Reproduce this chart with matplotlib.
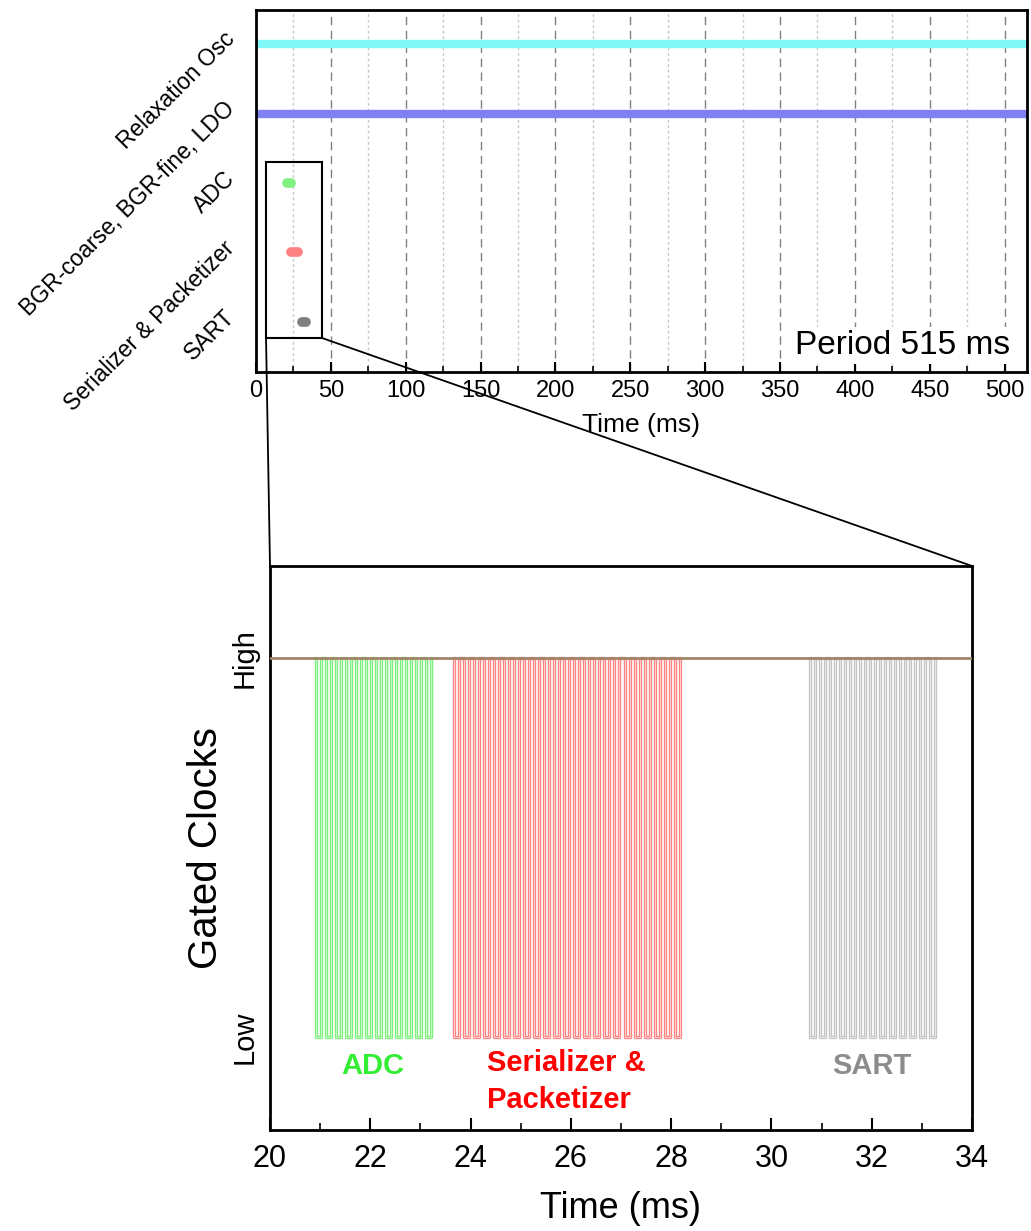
import numpy as np
import matplotlib
matplotlib.use('Agg')
import matplotlib.pyplot as plt
from matplotlib.patches import Rectangle, ConnectionPatch
from matplotlib.ticker import MultipleLocator

# top panel: power-domain activity over one period
rows = ['Relaxation Osc', 'BGR-coarse, BGR-fine, LDO', 'ADC', 'Serializer & Packetizer', 'SART']
row_pos = [5, 4, 3, 2, 1]
row_start = [0, 0, 20.92, 23.67, 30.77]
row_end = [515, 515, 23.23, 28.18, 33.27]
row_colors = ['#80f8f8', '#8080f4', '#80f080', '#ff8080', '#808080']
period_ms = 515

# bottom panel: gated clock bursts
clk_names = ['ADC', 'Serializer &\nPacketizer', 'SART']
clk_start = [20.92, 23.67, 30.77]
clk_pulses = [12, 23, 13]
clk_period = [0.2, 0.2, 0.2]
clk_colors = ['#7cf07c', '#ff8585', '#c4c4c4']
txt_colors = ['#33ee33', '#ff0000', '#8c8c8c']
txt_x = [22.05, 24.33, 32.0]

plt.rcParams['font.family'] = 'Liberation Sans'

W, H = 1031, 1231
fig = plt.figure(figsize=(W / 100, H / 100), dpi=100)

# ---------- top ----------
ax1 = fig.add_axes([256 / W, 1 - 372 / H, (1027 - 256) / W, (372 - 10) / H])
ax1.set_xlim(0, 515)
ax1.set_ylim(0.28, 5.49)
for x in np.arange(25, 515, 25):
    if x % 50 == 0:
        ax1.axvline(x, color='#808080', lw=1, ls=(0, (6, 4)), zorder=0)
    else:
        ax1.axvline(x, color='#c8c8c8', lw=1, ls=(0, (2, 2)), zorder=0)
for i in range(len(rows)):
    if row_end[i] - row_start[i] > 100:
        ax1.plot([row_start[i], row_end[i]], [row_pos[i], row_pos[i]], color=row_colors[i],
                 lw=6, solid_capstyle='butt', zorder=2)
    else:
        ax1.plot([row_start[i], row_end[i]], [row_pos[i], row_pos[i]], color=row_colors[i],
                 lw=7, solid_capstyle='round', zorder=2)
ax1.set_yticks(row_pos)
ax1.set_yticklabels(rows, rotation=45, ha='right', va='bottom', rotation_mode='anchor', fontsize=16.5)
ax1.tick_params(axis='y', length=0, pad=12)
ax1.xaxis.set_major_locator(MultipleLocator(50))
ax1.xaxis.set_minor_locator(MultipleLocator(25))
ax1.tick_params(axis='x', which='major', direction='in', length=7, width=1.5, labelsize=17, pad=6)
ax1.tick_params(axis='x', which='minor', direction='in', length=4, width=1.2)
ax1.set_xlabel('Time (ms)', fontsize=19, labelpad=8)
for s in ax1.spines.values():
    s.set_linewidth(2)
ax1.text(0.978, 0.03, 'Period %d ms' % period_ms, transform=ax1.transAxes, ha='right', va='bottom',
         fontsize=24, bbox=dict(facecolor='white', edgecolor='none', pad=2), zorder=5)

box = Rectangle((6.7, 0.77), 37.3, 2.53, fill=False, edgecolor='black', lw=1.5, zorder=4)
ax1.add_patch(box)

# ---------- bottom ----------
ax2 = fig.add_axes([270 / W, 1 - 1130 / H, 702 / W, 564 / H])
ax2.set_xlim(20, 34)
ax2.set_ylim(-0.245, 1.243)
ax2.plot([20, 34], [1, 1], color='#a08468', lw=2, zorder=3)
for i in range(len(clk_names)):
    xs, ys = [], []
    p = clk_period[i]
    for k in range(clk_pulses[i]):
        t0 = clk_start[i] + k * p
        xs += [t0, t0, t0 + p / 2, t0 + p / 2]
        ys += [1, 0, 0, 1]
    ax2.plot(xs, ys, color=clk_colors[i], lw=2.4, zorder=2)
    ax2.plot(xs, ys, color='white', lw=0.7, alpha=0.6, zorder=2)
    ax2.text(txt_x[i], -0.03 if i == 1 else -0.04, clk_names[i], color=txt_colors[i], fontsize=21,
             fontweight='bold', ha='center' if i != 1 else 'left', va='top', linespacing=1.45)

ax2.xaxis.set_major_locator(MultipleLocator(2))
ax2.xaxis.set_minor_locator(MultipleLocator(1))
ax2.tick_params(axis='x', which='major', direction='in', length=9, width=1.5, labelsize=22, pad=10)
ax2.tick_params(axis='x', which='minor', direction='in', length=5, width=1.2)
ax2.set_yticks([0, 1])
ax2.set_yticklabels(['Low', 'High'], rotation=90, va='center', fontsize=21)
ax2.tick_params(axis='y', length=0, pad=8)
ax2.set_xlabel('Time (ms)', fontsize=26, labelpad=12)
ax2.set_ylabel('Gated Clocks', fontsize=29, labelpad=4)
for s in ax2.spines.values():
    s.set_linewidth(2)

# zoom connectors
for xa, xb in [(6.7, 20), (44, 34)]:
    con = ConnectionPatch(xyA=(xa, 0.77), coordsA=ax1.transData, xyB=(xb, 1.243), coordsB=ax2.transData,
                          color='black', lw=1.3)
    fig.add_artist(con)

fig.savefig('out.png', dpi=100)
